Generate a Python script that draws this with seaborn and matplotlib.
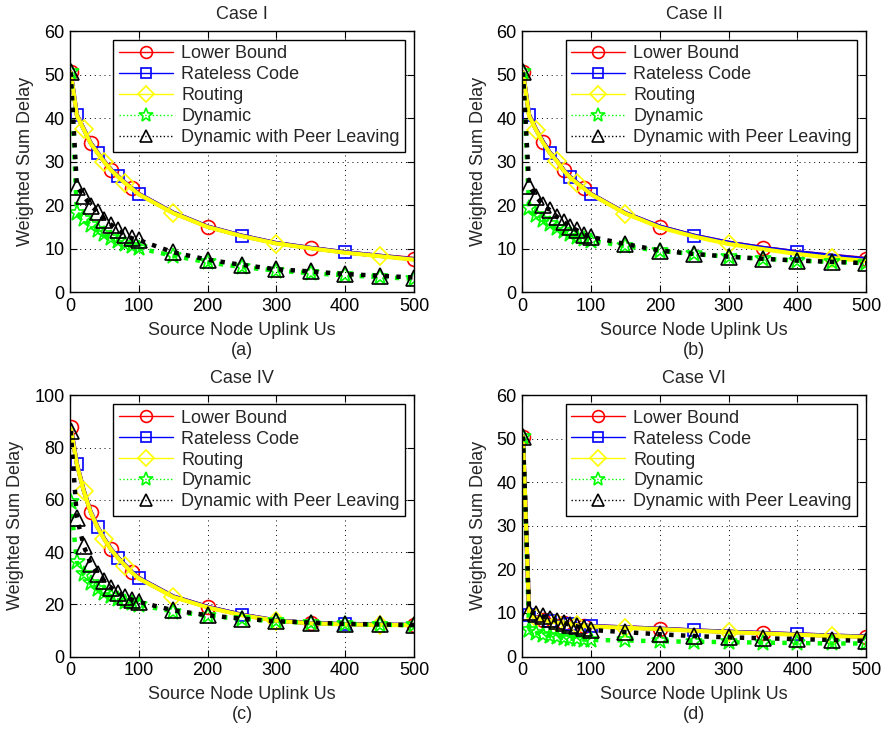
import numpy as np
import pandas as pd
import seaborn as sns
import matplotlib
matplotlib.use('Agg')
import matplotlib.pyplot as plt

# source node uplink values (x axis)
uplink = [1, 10, 20, 30, 40, 50, 60, 70, 80, 90, 100, 150, 200, 250, 300, 350, 400, 450, 500]

# Case I
lb_1  = [50.5, 40.7, 37.5, 34.3, 32.1, 30.0, 28.1, 26.6, 25.2, 23.9, 22.6, 18.3, 15.1, 13.0, 11.3, 10.2, 9.2, 8.4, 7.7]
rc_1  = [50.5, 40.7, 37.5, 34.3, 32.1, 30.0, 28.1, 26.6, 25.2, 23.9, 22.6, 18.3, 15.1, 13.0, 11.3, 10.2, 9.2, 8.4, 7.6]
rt_1  = [50.5, 40.6, 37.4, 34.2, 32.0, 29.9, 28.0, 26.5, 25.1, 23.8, 22.5, 18.2, 15.0, 12.9, 11.2, 10.1, 9.1, 8.3, 7.5]
dyn_1 = [50.5, 18.2, 16.8, 15.4, 14.3, 13.3, 12.5, 11.8, 11.1, 10.6, 10.1, 8.4, 6.9, 5.8, 5.0, 4.4, 3.9, 3.5, 3.1]
dpl_1 = [50.5, 24.3, 22.1, 19.9, 18.5, 16.6, 15.5, 14.2, 13.2, 12.4, 12.0, 9.2, 7.5, 6.3, 5.3, 4.8, 4.2, 3.8, 3.4]

# Case II
lb_2  = [50.5, 40.7, 37.4, 34.6, 32.1, 30.3, 28.1, 26.4, 25.1, 23.9, 22.6, 18.2, 15.1, 13.0, 11.4, 10.2, 9.2, 8.4, 7.7]
rc_2  = [50.5, 40.7, 37.4, 34.6, 32.1, 30.3, 28.1, 26.4, 25.1, 23.9, 22.6, 18.2, 15.1, 13.0, 11.4, 10.2, 9.2, 8.4, 7.6]
rt_2  = [50.5, 40.5, 37.3, 34.4, 32.0, 30.2, 28.0, 26.3, 25.0, 23.8, 22.5, 18.1, 14.9, 12.8, 11.1, 9.9, 8.8, 7.9, 7.2]
dyn_2 = [50.5, 19.3, 17.8, 16.6, 15.6, 14.8, 14.1, 13.4, 12.8, 12.3, 11.9, 10.6, 9.5, 8.8, 8.2, 7.7, 7.3, 7.0, 6.7]
dpl_2 = [50.5, 24.5, 22.0, 20.1, 18.9, 17.4, 16.2, 15.1, 14.2, 13.2, 12.7, 11.1, 9.6, 8.8, 8.2, 7.7, 7.3, 7.0, 6.7]

# Case IV
lb_4  = [88.0, 73.7, 63.5, 55.4, 49.6, 45.0, 41.0, 37.8, 35.0, 32.3, 30.1, 23.0, 19.0, 16.0, 13.8, 12.8, 12.4, 12.2, 12.1]
rc_4  = [88.0, 73.7, 63.5, 55.4, 49.6, 45.0, 41.0, 37.8, 35.0, 32.3, 30.1, 23.0, 19.0, 16.0, 13.8, 12.8, 12.4, 12.2, 12.1]
rt_4  = [87.5, 73.5, 63.3, 55.2, 49.4, 44.8, 40.8, 37.6, 34.8, 32.1, 29.9, 22.8, 18.8, 15.8, 13.7, 12.7, 12.3, 12.1, 12.0]
dyn_4 = [59.0, 36.2, 31.4, 28.2, 26.0, 24.4, 23.0, 22.0, 21.0, 20.3, 19.8, 17.2, 15.6, 14.4, 13.5, 12.9, 12.5, 12.2, 12.0]
dpl_4 = [86.3, 53.2, 42.3, 35.6, 31.4, 28.8, 26.3, 24.4, 22.7, 21.8, 20.9, 17.7, 15.8, 14.5, 13.5, 13.0, 12.5, 12.3, 12.0]

# Case VI
lb_6  = [50.5, 9.6, 9.0, 8.5, 8.2, 7.9, 7.7, 7.5, 7.3, 7.1, 7.0, 6.7, 6.4, 6.0, 5.7, 5.4, 5.1, 4.8, 4.6]
rc_6  = [50.5, 9.6, 9.0, 8.5, 8.2, 7.9, 7.7, 7.5, 7.3, 7.1, 7.0, 6.7, 6.4, 6.0, 5.7, 5.4, 5.1, 4.8, 4.6]
rt_6  = [50.5, 9.5, 8.9, 8.4, 8.1, 7.8, 7.6, 7.4, 7.2, 7.0, 6.9, 6.6, 6.3, 5.9, 5.6, 5.3, 5.0, 4.7, 4.5]
dyn_6 = [50.5, 6.2, 5.5, 5.0, 4.7, 4.5, 4.3, 4.1, 4.0, 3.9, 3.8, 3.7, 3.5, 3.4, 3.3, 3.2, 3.1, 3.0, 3.0]
dpl_6 = [50.5, 10.3, 9.8, 9.2, 8.7, 8.2, 7.7, 7.3, 6.9, 6.5, 6.1, 5.6, 5.1, 4.7, 4.4, 4.2, 4.0, 3.8, 3.6]

case_titles = ['Case I', 'Case II', 'Case IV', 'Case VI']
panel_tags = ['(a)', '(b)', '(c)', '(d)']
y_tops = [60, 60, 100, 60]
y_steps = [10, 10, 20, 10]
series_labels = ['Lower Bound', 'Rateless Code', 'Routing', 'Dynamic', 'Dynamic with Peer Leaving']

cases = [
    (lb_1, rc_1, rt_1, dyn_1, dpl_1),
    (lb_2, rc_2, rt_2, dyn_2, dpl_2),
    (lb_4, rc_4, rt_4, dyn_4, dpl_4),
    (lb_6, rc_6, rt_6, dyn_6, dpl_6),
]

sns.set_theme(style='ticks')
plt.rcParams['font.family'] = ['Liberation Sans', 'DejaVu Sans']
fs = 13

# line styles (MATLAB like)
styles = [
    dict(color='red', marker='o', ms=10, ls='-', lw=3, markevery=(0, 3)),
    dict(color='blue', marker='s', ms=9, ls='-', lw=3, markevery=(1, 3)),
    dict(color='yellow', marker='D', ms=9, ls='-', lw=3, markevery=(2, 3)),
    dict(color='lime', marker='*', ms=12, ls=':', lw=3.2, markevery=None),
    dict(color='black', marker='^', ms=11, ls=':', lw=3.2, markevery=None),
]

fig = plt.figure(figsize=(8.84, 7.29), dpi=100)
lefts = [0.0792, 0.5908, 0.0792, 0.5908]
bottoms = [0.599, 0.599, 0.0994, 0.0994]

for i, data in enumerate(cases):
    ax = fig.add_axes([lefts[i], bottoms[i], 0.3891, 0.3584])
    for vals, lab, st in zip(data, series_labels, styles):
        df = pd.DataFrame({'x': uplink, 'y': vals})
        sns.lineplot(data=df, x='x', y='y', ax=ax, label=lab, color=st['color'],
                     marker=st['marker'], markersize=st['ms'], linestyle=st['ls'],
                     linewidth=st['lw'], markevery=st['markevery'],
                     markerfacecolor='none', markeredgecolor=st['color'],
                     markeredgewidth=1.2, errorbar=None)
    ax.set_xlim(0, 500)
    ax.set_ylim(0, y_tops[i])
    ax.set_xticks(np.arange(0, 501, 100))
    ax.set_yticks(np.arange(0, y_tops[i] + 1, y_steps[i]))
    ax.grid(True, color='black', linestyle=(0, (1, 4)), linewidth=0.7)
    ax.tick_params(direction='in', top=True, right=True, length=5, width=0.8,
                   labelsize=fs, pad=4, colors='black')
    for sp in ax.spines.values():
        sp.set_color('black')
        sp.set_linewidth(1.0)
    ax.set_title(case_titles[i], fontsize=fs, pad=9)
    ax.set_xlabel('Source Node Uplink Us', fontsize=fs, labelpad=5)
    ax.set_ylabel('Weighted Sum Delay', fontsize=fs, labelpad=7)
    ax.text(0.5, -0.222, panel_tags[i], transform=ax.transAxes, ha='center',
            va='center', fontsize=fs)
    leg = ax.legend(loc='upper right', bbox_to_anchor=(0.974, 0.966),
                    borderaxespad=0, fancybox=False, framealpha=1,
                    edgecolor='black', fontsize=fs, handlelength=3.0,
                    handletextpad=0.45, labelspacing=0.22, borderpad=0.3,
                    markerscale=0.85)
    leg.get_frame().set_linewidth(1.0)
    for ln in leg.get_lines():
        ln.set_linewidth(1.0)

fig.savefig('out.png', dpi=100)
